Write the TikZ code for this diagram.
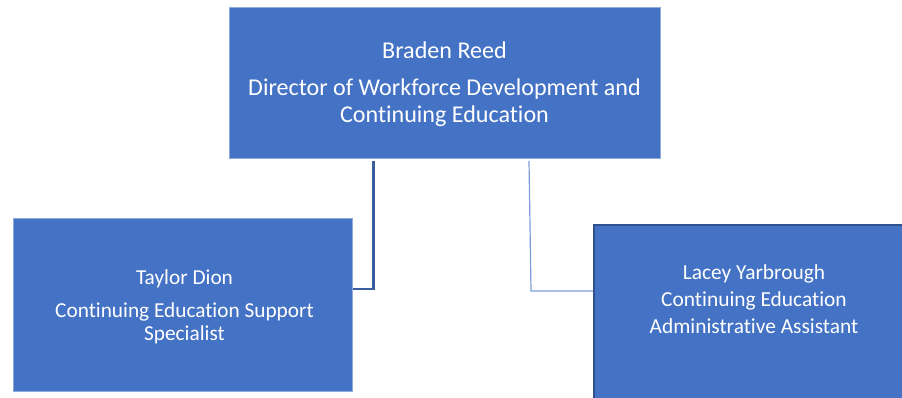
\documentclass[tikz,border=0pt]{standalone}
\usepackage{fontspec}
\setmainfont[Ligatures=NoCommon]{Carlito}
\definecolor{boxfill}{HTML}{4472C4}
\definecolor{lightedge}{HTML}{8FAADC}
\definecolor{darkedge}{HTML}{2F528F}
\definecolor{connA}{HTML}{3A5D9F}
\definecolor{connB}{HTML}{7A9CD8}
\begin{document}
\begin{tikzpicture}[x=1pt,y=-1pt,
  orgbox/.style={fill=boxfill, draw=lightedge, line width=0.8pt, inner sep=0pt, anchor=north west},
  boxtext/.style={text=white, align=center, inner sep=0pt, font=\fontsize{21.3}{23}\selectfont},
  toptext/.style={text=white, align=center, inner sep=0pt, font=\fontsize{24.1}{27}\selectfont}]
\useasboundingbox (0,0) rectangle (902,398);
\begin{scope}
\clip (0,0) rectangle (902,398);
% boxes
\node[orgbox, minimum width=431pt, minimum height=151pt] (top) at (229,7) {};
\node[orgbox, minimum width=339pt, minimum height=173pt] (left) at (13,218) {};
\node[orgbox, draw=darkedge, line width=2pt, minimum width=330pt, minimum height=200pt] (right) at (593,224) {};
\end{scope}
% texts
\node[toptext] (toptxt) at (444.5,84) {Braden Reed\\[10pt]Director of Workforce Development and\\Continuing Education};
\node[boxtext] (lefttxt) at (184.5,307) {Taylor Dion\\[10pt]Continuing Education Support\\Specialist};
\node[boxtext, font=\fontsize{21.4}{27}\selectfont] (righttxt) at (754,299.5) {Lacey Yarbrough\\Continuing Education\\Administrative Assistant};
% connectors
\coordinate (lt) at (373.5,161);
\coordinate (lj) at (373.5,289);
\draw[connA, line width=2.4pt] (lt) -- (lj) -- (left.east |- lj);
\coordinate (rt) at (529,161);
\coordinate (rj) at (531,291);
\draw[connB, line width=1.2pt] (rt) -- (rj) -- (right.west |- rj);
\end{tikzpicture}
\end{document}
